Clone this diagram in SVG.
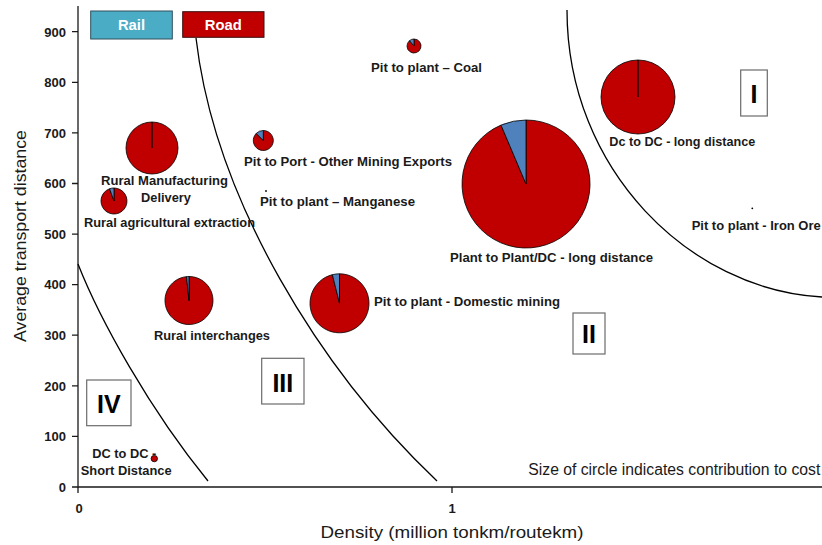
<svg xmlns="http://www.w3.org/2000/svg" width="822" height="545" viewBox="0 0 822 545">
<style>
.lbl{font-family:"Liberation Sans",Arial,sans-serif;font-weight:bold;font-size:12.8px;fill:#1a1a1a}
.tick{font-family:"Liberation Sans",Arial,sans-serif;font-weight:bold;font-size:13px;fill:#1a1a1a}
.ttl{font-family:"Liberation Sans",Arial,sans-serif;font-size:17px;fill:#1a1a1a}
.note{font-family:"Liberation Sans",Arial,sans-serif;font-size:15.8px;fill:#1a1a1a}
.num{font-family:"Liberation Sans",Arial,sans-serif;font-weight:bold;font-size:25px;fill:#000}
.box{fill:#fff;stroke:#6b6b6b;stroke-width:1.2}
.road{fill:#C00000;stroke:#000;stroke-width:0.8}
.rail{fill:#4F81BD;stroke:#000;stroke-width:0.8}
.curve{fill:none;stroke:#000;stroke-width:1.3}
.axis{stroke:#1a1a1a;stroke-width:1.3;fill:none}
.leg{font-family:"Liberation Sans",Arial,sans-serif;font-weight:bold;font-size:14.8px;fill:#fff}
</style>
<rect width="822" height="545" fill="#fff"/>
<g id="axes">
<path class="axis" d="M78,6 V487 H822"/>
<path class="axis" d="M72,31.7 H78 M72,82.3 H78 M72,132.9 H78 M72,183.5 H78 M72,234.1 H78 M72,284.6 H78 M72,335.2 H78 M72,385.8 H78 M72,436.4 H78 M72,487 H78 M78,487 V493 M452,487 V493"/>
<g class="tick" text-anchor="end">
<text x="66" y="36.5">900</text><text x="66" y="87.1">800</text><text x="66" y="137.7">700</text><text x="66" y="188.3">600</text><text x="66" y="238.9">500</text><text x="66" y="289.4">400</text><text x="66" y="340">300</text><text x="66" y="390.6">200</text><text x="66" y="441.2">100</text><text x="66" y="491.8">0</text>
</g>
<g class="tick" text-anchor="middle"><text x="79" y="512.7">0</text><text x="452" y="512.7">1</text></g>
<text class="ttl" text-anchor="middle" transform="translate(26,236) rotate(-90)" textLength="212" lengthAdjust="spacingAndGlyphs">Average transport distance</text>
<text class="ttl" text-anchor="middle" x="452" y="538" textLength="263" lengthAdjust="spacingAndGlyphs">Density (million tonkm/routekm)</text>
</g>
<g id="connectors">
<path class="curve" d="M196,38 C215,200 320,370 437,481"/>
<path class="curve" d="M78,264 C100,320 150,410 208,481"/>
<path class="curve" d="M567,10 C567,170 690,290 822,297"/>
</g>
<g id="legend">
<rect x="90.7" y="11" width="81.6" height="28" fill="#4BACC6" stroke="#2f4f5a" stroke-width="1"/>
<text class="leg" x="131.5" y="30" text-anchor="middle">Rail</text>
<rect x="182.7" y="11.7" width="81.3" height="25.6" fill="#C00000" stroke="#3a1010" stroke-width="1"/>
<text class="leg" x="223.3" y="30" text-anchor="middle">Road</text>
</g>
<g id="region-I"><rect class="box" x="740.7" y="70" width="26.6" height="46"/><text class="num" x="754" y="102.7" text-anchor="middle">I</text></g>
<g id="region-II"><rect class="box" x="573" y="313" width="32" height="41"/><text class="num" x="589" y="342.5" text-anchor="middle">II</text></g>
<g id="region-III"><rect class="box" x="261.7" y="358.3" width="42.3" height="45.7"/><text class="num" x="282.8" y="392.3" text-anchor="middle">III</text></g>
<g id="region-IV"><rect class="box" x="86.7" y="380" width="44.3" height="45.7"/><text class="num" x="108.8" y="413.3" text-anchor="middle">IV</text></g>
<g id="rural-manufacturing">
<circle class="road" cx="152" cy="148" r="26"/><path d="M152,122 V148" stroke="#000" stroke-width="1.2"/>
<text class="lbl" x="164.5" y="185" text-anchor="middle" textLength="127" lengthAdjust="spacingAndGlyphs">Rural Manufacturing</text>
<text class="lbl" x="166" y="201.7" text-anchor="middle">Delivery</text>
</g>
<g id="rural-agricultural">
<path class="road" d="M114,201 L114,188 A13,13 0 1 1 109.55,188.78 Z"/>
<path class="rail" d="M114,201 L109.55,188.78 A13,13 0 0 1 114,188 Z"/>
<text class="lbl" x="84" y="226.7" textLength="171" lengthAdjust="spacingAndGlyphs">Rural agricultural extraction</text>
</g>
<g id="pit-to-port">
<path class="road" d="M263.3,140.5 L263.3,130.5 A10,10 0 1 1 256.23,133.43 Z"/>
<path class="rail" d="M263.3,140.5 L256.23,133.43 A10,10 0 0 1 263.3,130.5 Z"/>
<text class="lbl" x="244" y="165.7" textLength="208" lengthAdjust="spacingAndGlyphs">Pit to Port - Other Mining Exports</text>
</g>
<g id="pit-manganese">
<circle cx="266" cy="191" r="0.9" fill="#000"/>
<text class="lbl" x="260" y="205.7" textLength="155" lengthAdjust="spacingAndGlyphs">Pit to plant – Manganese</text>
</g>
<g id="pit-coal">
<path class="road" d="M414,46 L414,39 A7,7 0 1 1 409.5,40.64 Z"/>
<path class="rail" d="M414,46 L409.5,40.64 A7,7 0 0 1 414,39 Z"/>
<text class="lbl" x="371" y="71.7" textLength="111" lengthAdjust="spacingAndGlyphs">Pit to plant – Coal</text>
</g>
<g id="dc-long">
<circle class="road" cx="638" cy="97" r="37"/><path d="M638,60 V97" stroke="#000" stroke-width="1.2"/>
<text class="lbl" x="609.3" y="146" textLength="146" lengthAdjust="spacingAndGlyphs">Dc to DC - long distance</text>
</g>
<g id="pit-iron">
<circle cx="752.3" cy="208.3" r="0.9" fill="#000"/>
<text class="lbl" x="691.7" y="230" textLength="129" lengthAdjust="spacingAndGlyphs">Pit to plant - Iron Ore</text>
</g>
<g id="plant-long">
<path class="road" d="M526,184 L526,120 A64,64 0 1 1 501,125.1 Z"/>
<path class="rail" d="M526,184 L501,125.1 A64,64 0 0 1 526,120 Z"/>
<text class="lbl" x="450" y="261.7" textLength="203" lengthAdjust="spacingAndGlyphs">Plant to Plant/DC - long distance</text>
</g>
<g id="rural-interchanges">
<path class="road" d="M189,300.5 L189,276.5 A24,24 0 1 1 186.49,276.63 Z"/>
<path class="rail" d="M189,300.5 L186.49,276.63 A24,24 0 0 1 189,276.5 Z"/>
<text class="lbl" x="154" y="340" textLength="116" lengthAdjust="spacingAndGlyphs">Rural interchanges</text>
</g>
<g id="pit-domestic">
<path class="road" d="M339.5,303.3 L339.5,273.8 A29.5,29.5 0 1 1 332.36,274.68 Z"/>
<path class="rail" d="M339.5,303.3 L332.36,274.68 A29.5,29.5 0 0 1 339.5,273.8 Z"/>
<text class="lbl" x="374" y="306" textLength="186" lengthAdjust="spacingAndGlyphs">Pit to plant - Domestic mining</text>
</g>
<g id="dc-short">
<circle class="road" cx="154.3" cy="458.6" r="3.2"/>
<text class="lbl" x="92.3" y="458" textLength="64" lengthAdjust="spacingAndGlyphs">DC to DC -</text>
<text class="lbl" x="80.7" y="475" textLength="91" lengthAdjust="spacingAndGlyphs">Short Distance</text>
</g>
<text class="note" x="528.3" y="475" textLength="292" lengthAdjust="spacingAndGlyphs">Size of circle indicates contribution to cost</text>
</svg>
